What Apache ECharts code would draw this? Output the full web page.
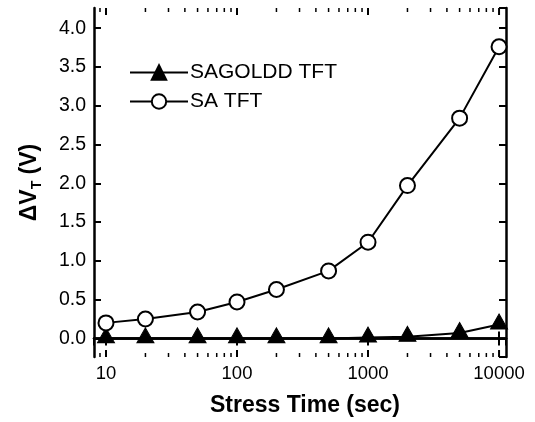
<!DOCTYPE html>
<html lang="en">
<head>
    <meta charset="UTF-8">
    <title>Stress time vs dVT</title>
    <script src="https://cdn.jsdelivr.net/npm/echarts@6/dist/echarts.min.js"></script>
    <style>
        html, body { margin: 0; padding: 0; background: #fff; }
        #chart { width: 535px; height: 422px; }
    </style>
</head>
<body>
    <div id="chart"></div>
    <script>
    // stress time (sec)
    var stressTime = [10, 20, 50, 100, 200, 500, 1000, 2000, 5000, 10000];
    // delta VT (V)
    var sagolddTft = [0, 0, 0, 0, 0, 0, 0.01, 0.02, 0.07, 0.18];
    var saTft = [0.2, 0.25, 0.34, 0.47, 0.63, 0.87, 1.24, 1.97, 2.84, 3.76];
    // minor ticks on the log axis
    var minorTicks = [9, 20, 30, 40, 50, 60, 70, 80, 90, 200, 300, 400, 500, 600, 700, 800, 900,
        2000, 3000, 4000, 5000, 6000, 7000, 8000, 9000];
    // major ticks on the log axis
    var majorTicks = [10, 100, 1000, 10000];

    var xMin = 8.1, xMax = 11300, yMin = -0.24, yMax = 4.26;
    var font = '"Liberation Sans", Arial, sans-serif';

    function pairs(ys) {
        return stressTime.map(function (x, i) { return [x, ys[i]]; });
    }

    var myChart = echarts.init(document.getElementById('chart'));
    var lineAxis = { show: true, lineStyle: { color: '#000', width: 2.5 } };
    var tickIn = { show: true, inside: true, length: 7, lineStyle: { color: '#000', width: 2 } };

    // ticks for the log axis, drawn through the axis scale
    function tickSeries(values, len, width) {
        return {
            type: 'custom',
            data: values,
            silent: true,
            encode: { x: 0 },
            z: 5,
            renderItem: function (params, api) {
                var cs = params.coordSys;
                var x = api.coord([api.value(0), 0])[0];
                var style = { stroke: '#000', lineWidth: width };
                return {
                    type: 'group',
                    children: [
                        { type: 'line', shape: { x1: x, y1: cs.y + cs.height, x2: x, y2: cs.y + cs.height - len }, style: style },
                        { type: 'line', shape: { x1: x, y1: cs.y, x2: x, y2: cs.y + len }, style: style }
                    ]
                };
            }
        };
    }

    var option = {
        animation: false,
        textStyle: { fontFamily: font },
        grid: { left: 94, right: 29, top: 8, bottom: 65 },
        legend: {
            orient: 'vertical',
            left: 129,
            top: 62,
            padding: 0,
            itemWidth: 58,
            itemHeight: 18,
            itemGap: 8,
            data: ['SAGOLDD TFT', 'SA TFT'],
            textStyle: { fontSize: 21, color: '#000', fontFamily: font, padding: [0, 0, 0, -3] }
        },
        xAxis: [{
            type: 'log',
            min: xMin,
            max: xMax,
            logBase: 10,
            splitNumber: 3,
            axisLine: lineAxis,
            axisTick: tickIn,
            splitLine: { show: false },
            axisLabel: {
                color: '#000', fontSize: 18.5, margin: 7,
                showMinLabel: false, showMaxLabel: false,
                formatter: function (v) { return String(Math.round(v)); }
            },
            name: 'Stress Time (sec)',
            nameLocation: 'middle',
            nameGap: 37,
            nameTextStyle: { fontSize: 23, fontWeight: 'bold', color: '#000', padding: [0, 0, 0, 10] }
        }, {
            type: 'log',
            position: 'top',
            min: xMin,
            max: xMax,
            logBase: 10,
            splitNumber: 3,
            axisLine: lineAxis,
            axisTick: tickIn,
            splitLine: { show: false },
            axisLabel: { show: false }
        }],
        yAxis: [{
            type: 'value',
            min: yMin,
            max: yMax,
            splitNumber: 9,
            axisLine: lineAxis,
            axisTick: tickIn,
            splitLine: { show: false },
            axisLabel: {
                color: '#000', fontSize: 19.5, margin: 8,
                showMinLabel: false, showMaxLabel: false,
                formatter: function (v) { return v.toFixed(1); }
            },
            name: '{a|ΔV}{b|T}{a| (V)}',
            nameLocation: 'middle',
            nameGap: 50,
            nameTextStyle: {
                rich: {
                    a: { fontSize: 23, fontWeight: 'bold', color: '#000', fontFamily: font, lineHeight: 28 },
                    b: { fontSize: 14, fontWeight: 'bold', color: '#000', fontFamily: font, verticalAlign: 'bottom', lineHeight: 28, padding: [11, 0, 0, 0] }
                }
            }
        }, {
            type: 'value',
            position: 'right',
            min: yMin,
            max: yMax,
            splitNumber: 9,
            axisLine: lineAxis,
            axisTick: tickIn,
            splitLine: { show: false },
            axisLabel: { show: false }
        }],
        series: [{
            name: 'SAGOLDD TFT',
            type: 'line',
            data: pairs(sagolddTft),
            symbol: 'triangle',
            symbolSize: [17, 15],
            symbolOffset: [0, -3],
            itemStyle: { color: '#000', borderColor: '#000', borderWidth: 1 },
            lineStyle: { color: '#000', width: 2 },
            z: 3
        }, {
            name: 'SA TFT',
            type: 'line',
            data: pairs(saTft),
            symbol: 'circle',
            symbolSize: 15,
            itemStyle: { color: '#fff', borderColor: '#000', borderWidth: 2 },
            lineStyle: { color: '#000', width: 2 },
            z: 4
        },
        tickSeries(majorTicks, 7, 2),
        tickSeries(minorTicks, 4, 1.5)]
    };
    myChart.setOption(option);
    </script>
</body>
</html>
